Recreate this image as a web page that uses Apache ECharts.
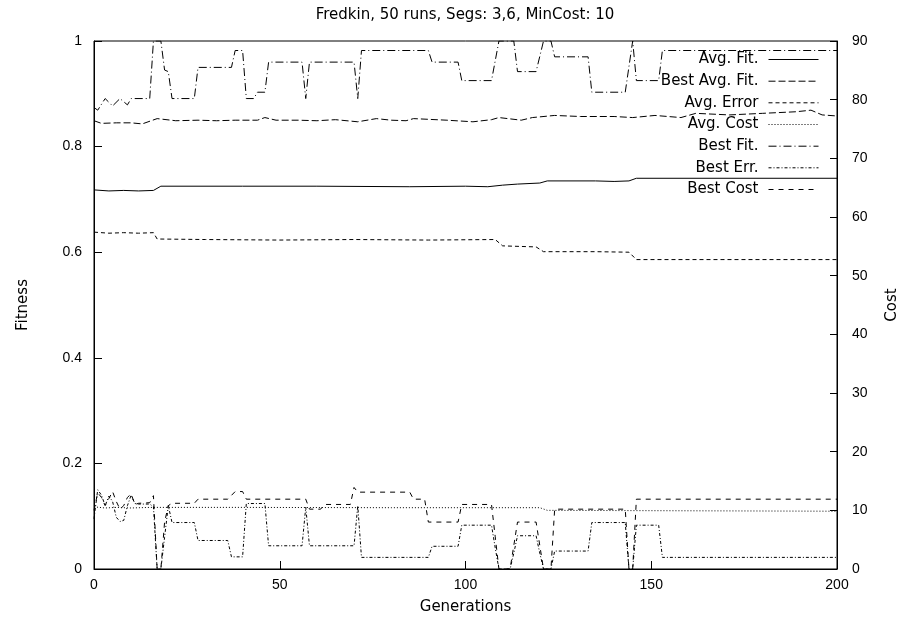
<!DOCTYPE html>
<html><head><meta charset="utf-8">
<script src="https://cdn.jsdelivr.net/npm/echarts@6/dist/echarts.min.js"></script>
<style>html,body{margin:0;padding:0;background:#fff}#c{width:899px;height:626px}</style>
</head><body><div id="c"></div>
<script>
const titleText = 'Fredkin, 50 runs, Segs: 3,6, MinCost: 10';
const xName = 'Generations';
const yName = 'Fitness';
const y2Name = 'Cost';
const seriesNames = ['Avg. Fit.', 'Best Avg. Fit.', 'Avg. Error', 'Avg. Cost', 'Best Fit.', 'Best Err.', 'Best Cost'];

// [generation, fitness]
const avgFit = [[0,0.718],[4,0.716],[8,0.717],[12,0.716],[16,0.717],[18,0.725],[40,0.725],[60,0.725],[85,0.724],[100,0.725],[106,0.724],[110,0.727],[114,0.729],[120,0.731],[122,0.735],[135,0.735],[140,0.734],[144,0.735],[146,0.740],[200,0.740]];
const bestAvgFit = [[0,0.849],[2,0.844],[6,0.845],[10,0.845],[13,0.843],[17,0.853],[22,0.849],[28,0.850],[33,0.849],[38,0.850],[44,0.850],[46,0.855],[49,0.850],[55,0.850],[60,0.849],[65,0.851],[71,0.847],[76,0.853],[80,0.850],[84,0.849],[86,0.853],[95,0.850],[102,0.847],[107,0.851],[109,0.855],[115,0.850],[118,0.855],[124,0.859],[131,0.857],[140,0.857],[145,0.855],[151,0.859],[158,0.855],[162,0.863],[171,0.860],[180,0.863],[189,0.866],[193,0.869],[196,0.860],[200,0.858]];
const avgError = [[0,0.638],[4,0.636],[8,0.637],[12,0.636],[16,0.637],[17,0.625],[30,0.624],[50,0.623],[70,0.624],[90,0.623],[108,0.624],[110,0.612],[119,0.610],[121,0.601],[135,0.601],[144,0.600],[146,0.586],[200,0.586]];
// [generation, cost]
const avgCost = [[0,10.6],[3,10.4],[6,10.5],[10,10.4],[15,10.5],[40,10.5],[80,10.45],[120,10.45],[122,10.0],[145,9.95],[200,9.85]];
// [generation, fitness]
const bestFit = [[0,0.874],[1,0.869],[3,0.891],[5,0.877],[7,0.891],[9,0.879],[10,0.891],[15,0.891],[16,1.0],[18,1.0],[19,0.945],[20,0.942],[21,0.891],[27,0.891],[28,0.950],[37,0.950],[38,0.982],[40,0.982],[41,0.891],[43,0.891],[44,0.903],[46,0.903],[47,0.960],[56,0.960],[57,0.891],[58,0.960],[70,0.960],[71,0.891],[72,0.982],[90,0.982],[91,0.960],[98,0.960],[99,0.925],[107,0.925],[109,1.0],[113,1.0],[114,0.942],[119,0.942],[121,1.0],[123,1.0],[124,0.970],[133,0.970],[134,0.903],[143,0.903],[145,1.0],[146,0.925],[152,0.925],[153,0.982],[200,0.982]];
const bestErr = [[0,0.095],[1,0.150],[2,0.140],[3,0.120],[4,0.138],[5,0.128],[6,0.098],[7,0.090],[8,0.092],[9,0.120],[10,0.140],[11,0.124],[12,0.123],[15,0.123],[16,0.118],[17,0],[18,0],[19,0.060],[20,0.120],[21,0.088],[27,0.088],[28,0.054],[36,0.054],[37,0.023],[40,0.023],[41,0.124],[46,0.124],[47,0.044],[56,0.044],[57,0.117],[58,0.044],[70,0.044],[71,0.120],[72,0.022],[90,0.022],[91,0.043],[98,0.043],[99,0.083],[107,0.083],[108,0.040],[109,0],[112,0],[113,0.030],[114,0.063],[119,0.063],[120,0.030],[121,0],[123,0],[124,0.034],[133,0.034],[134,0.088],[143,0.088],[144,0],[145,0],[146,0.083],[152,0.083],[153,0.022],[200,0.022]];
// [generation, cost]
const bestCost = [[0,10.0],[1,13.0],[2,12.2],[3,10.8],[4,12.0],[5,13.2],[6,11.5],[7,10.2],[8,10.8],[9,12.2],[10,12.8],[11,11.0],[12,11.2],[15,11.3],[16,12.5],[17,0],[18,0],[19,8.0],[20,10.8],[21,11.2],[27,11.2],[28,11.9],[36,11.9],[38,13.2],[40,13.2],[41,11.9],[57,11.9],[58,10.2],[61,10.2],[62,11.0],[69,11.0],[70,13.9],[71,13.1],[85,13.1],[86,11.9],[89,11.9],[90,8.0],[98,8.0],[99,11.0],[107,11.0],[108,5.5],[109,0],[112,0],[113,4.0],[114,8.0],[119,8.0],[120,4.0],[121,0],[123,0],[124,10.2],[143,10.2],[144,0],[145,0],[146,11.9],[200,11.9]];

const seriesData = [avgFit, bestAvgFit, avgError, avgCost, bestFit, bestErr, bestCost];
const seriesAxis = [0, 0, 0, 1, 0, 0, 1];
const dashes = ['solid', [7,3], [4,3], [1,2], [8,3,1,3], [3,2,1,2], [5,5]];

const TXT = 'DejaVu Sans';
const NUM = 'Liberation Sans';
const rowCenters = [61, 82.7, 104.3, 126, 147.7, 169.3, 191];

const chart = echarts.init(document.getElementById('c'), null, {renderer: 'canvas'});
chart.setOption({
  animation: false,
  backgroundColor: '#fff',
  title: {
    text: titleText, left: 460, top: 3, textAlign: 'center',
    textStyle: {fontFamily: TXT, fontSize: 15, fontWeight: 'normal', color: '#000'}
  },
  grid: {left: 94, right: 62, top: 41, bottom: 57, show: true, borderColor: '#000', borderWidth: 1, outerBoundsMode: 'none', containLabel: false},
  legend: seriesNames.map((n, i) => ({
    data: [n], orient: 'vertical', align: 'right', right: 75, top: rowCenters[i] - 9 - 5,
    itemWidth: 50, itemHeight: 18, selectedMode: false,
    textStyle: {fontFamily: TXT, fontSize: 15, color: '#000', padding: [0, 5, 0, 0]},
    itemStyle: {opacity: 0},
    lineStyle: {color: '#000', width: 1, type: dashes[i], opacity: 1}
  })),
  xAxis: {
    type: 'value', min: 0, max: 200, interval: 50,
    name: xName, nameLocation: 'middle', nameGap: 31,
    nameTextStyle: {fontFamily: TXT, fontSize: 15, color: '#000'},
    axisLine: {show: true, lineStyle: {color: '#000', width: 1}},
    axisTick: {show: true, inside: true, length: 8, lineStyle: {color: '#000'}},
    axisLabel: {fontFamily: NUM, fontSize: 14, color: '#000', margin: 9},
    splitLine: {show: false}
  },
  yAxis: [{
    type: 'value', min: 0, max: 1, interval: 0.2, position: 'left',
    name: yName, nameLocation: 'middle', nameGap: 63, nameRotate: 90,
    nameTextStyle: {fontFamily: TXT, fontSize: 15, color: '#000'},
    axisLine: {show: true, lineStyle: {color: '#000', width: 1}},
    axisTick: {show: true, inside: true, length: 8, lineStyle: {color: '#000'}},
    axisLabel: {fontFamily: NUM, fontSize: 14, color: '#000', margin: 12},
    splitLine: {show: false}
  }, {
    type: 'value', min: 0, max: 90, interval: 10, position: 'right',
    name: y2Name, nameLocation: 'middle', nameGap: 48, nameRotate: 90,
    nameTextStyle: {fontFamily: TXT, fontSize: 15, color: '#000'},
    axisLine: {show: true, lineStyle: {color: '#000', width: 1}},
    axisTick: {show: true, inside: true, length: 7, lineStyle: {color: '#000'}},
    axisLabel: {fontFamily: NUM, fontSize: 14, color: '#000', margin: 15},
    splitLine: {show: false}
  }],
  series: seriesNames.map((n, i) => ({
    name: n, type: 'line', yAxisIndex: seriesAxis[i], data: seriesData[i],
    symbol: 'none', showSymbol: false, silent: true, clip: true,
    lineStyle: {color: '#000', width: 1, type: dashes[i]},
    itemStyle: {color: '#000'},
    emphasis: {disabled: true}
  }))
});
</script>
</body></html>
